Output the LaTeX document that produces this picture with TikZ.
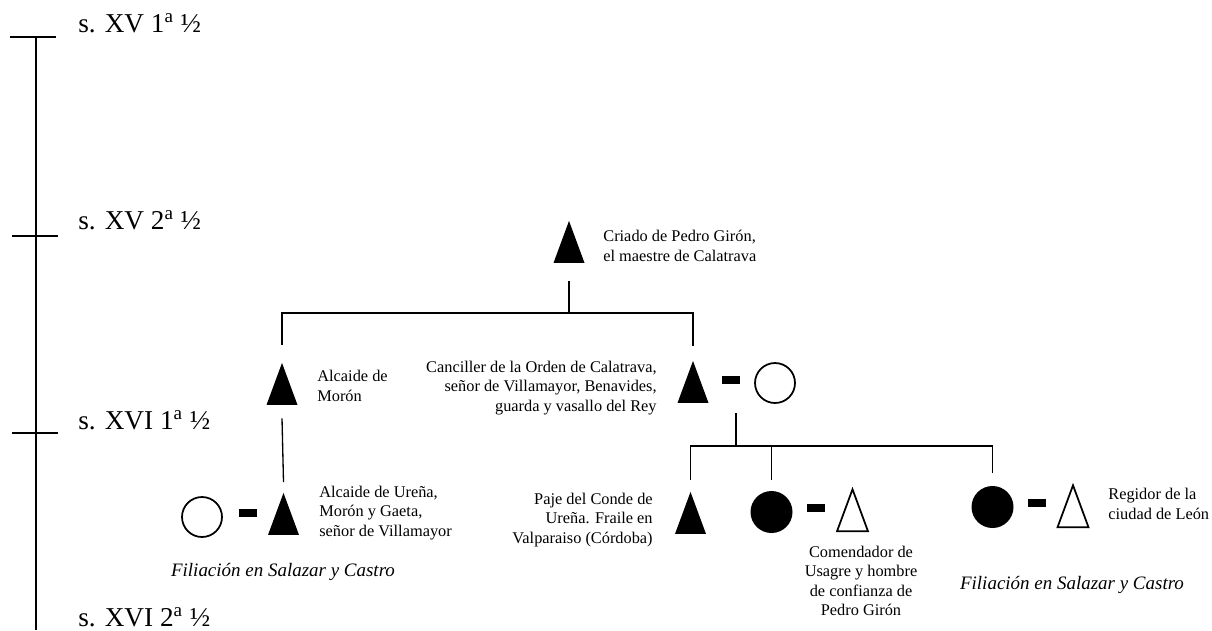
\documentclass[tikz,border=0pt]{standalone}
\usepackage{fontspec}
\setmainfont{Liberation Serif}
\usetikzlibrary{shapes.geometric,positioning}

\begin{document}
\begin{tikzpicture}[x=0.02cm, y=-0.02cm,
    male/.style={isosceles triangle, isosceles triangle stretches,
      shape border rotate=90, minimum width=0.62cm, minimum height=0.84cm,
      inner sep=0pt, fill=black, anchor=apex},
    maleo/.style={male, fill=white, draw, line width=1pt},
    fem/.style={circle, minimum size=0.84cm, inner sep=0pt, fill=black},
    femo/.style={circle, minimum size=0.8cm, inner sep=0pt, draw, line width=1pt},
    wed/.style={rectangle, minimum width=0.36cm, minimum height=0.16cm,
      inner sep=0pt, fill=black},
    txt/.style={inner sep=0pt, font=\fontsize{9.3}{11}\selectfont},
    src/.style={inner sep=0pt, font=\fontsize{10.8}{13}\selectfont\itshape},
    era/.style={inner sep=0pt, anchor=base west, font=\fontsize{15.5}{18}\selectfont},
    tie/.style={line width=0.75pt}
  ]
  \useasboundingbox (0,0) rectangle (1212,630);
  % time axis
  \draw[line width=1pt] (36,37) -- (36,630);
  \draw[line width=1pt] (10,37) -- (56,37);
  \draw[line width=1pt] (12,236) -- (58,236);
  \draw[line width=1pt] (12,433) -- (58,433);
  \node[era] (t1) at (78,32) {s. XV 1\textsuperscript{a} ½};
  \node[era] (t2) at (78,229) {s. XV 2\textsuperscript{a} ½};
  \node[era] (t3) at (78,429) {s. XVI 1\textsuperscript{a} ½};
  \node[era] (t4) at (78,626) {s. XVI 2\textsuperscript{a} ½};

  % first generation
  \node[male] (crd) at (569,220) {};
  \node[txt, anchor=west, align=left] (crdt) at (603,246)
    {Criado de Pedro Girón,\\el maestre de Calatrava};
  \coordinate (j1) at (569,313);

  % second generation
  \node[male] (mor) at (282,362) {};
  \node[txt, anchor=west, align=left] (mort) at (317,386) {Alcaide de\\Morón};
  \node[male] (can) at (693,360) {};
  \node[wed] (d1) at (730.5,380) {};
  \node[femo] (canw) at (775,383) {};
  \node[txt, anchor=east, align=right] (cant) at (657,388)
    {Canciller de la Orden de Calatrava,\\señor de Villamayor, Benavides,\\guarda y vasallo del Rey};
  \coordinate (c1) at (736,413);
  \coordinate (j2) at (736,446);

  % third generation
  \node[femo] (urew) at (202,517) {};
  \node[wed] (d2) at (248,513) {};
  \node[male] (ure) at (283.5,492) {};
  \node[txt, anchor=west, align=left] (uret) at (319,513)
    {Alcaide de Ureña,\\Morón y Gaeta,\\señor de Villamayor};
  \node[src] (s1) at (283,572) {Filiación en Salazar y Castro};

  \node[male] (paj) at (690.5,491) {};
  \node[txt, anchor=east, align=right] (pajt) at (653,520)
    {Paje del Conde de\\Ureña. Fraile en\\Valparaiso (Córdoba)};
  \node[fem] (hj1) at (771.5,512) {};
  \node[wed] (d3) at (815.5,508) {};
  \node[maleo] (com) at (852.5,487) {};
  \node[txt, align=center] (comt) at (861,581)
    {Comendador de\\Usagre y hombre\\de confianza de\\Pedro Girón};

  \node[fem] (hj2) at (992.5,507) {};
  \node[wed] (d4) at (1036.5,502.5) {};
  \node[maleo] (reg) at (1073,483) {};
  \node[txt, anchor=west, align=left] (regt) at (1108,504)
    {Regidor de la\\ciudad de León};
  \node[src] (s2) at (1072,585) {Filiación en Salazar y Castro};

  % descent lines
  \draw[tie] ([yshift=-0.36cm]crd.south) -- (j1);
  \draw[tie] ([yshift=0.34cm]mor.apex) |- (j1) -| ([yshift=0.28cm]can.apex);
  \draw[tie] ([yshift=-0.26cm]mor.south) -- ([yshift=0.2cm]ure.apex);
  \draw[tie] (c1) -- (j2);
  \draw[tie] ([yshift=0.22cm]paj.apex) |- (j2) -| ([yshift=0.26cm]hj2.north);
  \draw[tie] (j2 -| hj1) -- ([yshift=0.22cm]hj1.north);
\end{tikzpicture}
\end{document}
